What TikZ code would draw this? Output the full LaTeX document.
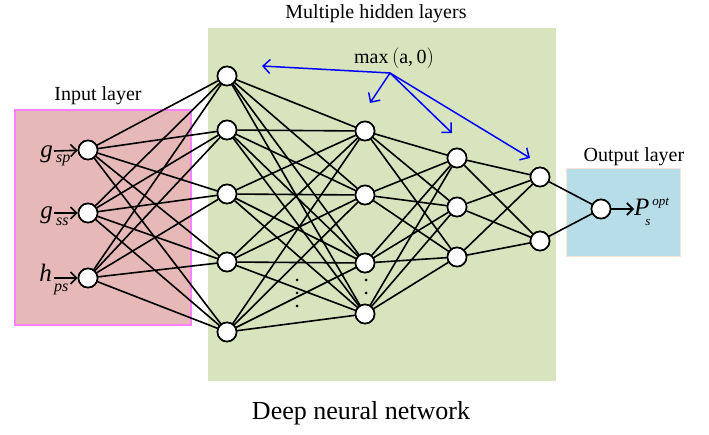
\documentclass[tikz,border=0pt]{standalone}
\usepackage{fontspec}
\setmainfont{Liberation Serif}
\usetikzlibrary{arrows.meta}
\definecolor{pinkfill}{RGB}{230,185,184}
\definecolor{pinkline}{RGB}{255,128,255}
\definecolor{greenfill}{RGB}{215,228,189}
\definecolor{bluefill}{RGB}{183,221,232}
\definecolor{peach}{RGB}{252,228,214}
\begin{document}
\begin{tikzpicture}[x=1pt,y=-1pt,
  neuron/.style={circle,draw=black,fill=white,line width=1.6pt,minimum size=19pt,inner sep=0pt},
  conn/.style={line width=1.6pt},
  relu/.style={blue,line width=1.5pt,-{Straight Barb[length=7pt,width=14pt,line width=1.5pt]}},
  inarrow/.style={line width=1.6pt,-{Straight Barb[length=6pt,width=12pt,line width=1.6pt]}},
  lbl/.style={font=\fontsize{20}{22}\selectfont,inner sep=0pt},
  big/.style={font=\fontsize{25}{27}\selectfont\itshape,inner sep=0pt},
  small/.style={font=\fontsize{16}{18}\selectfont\itshape,inner sep=0pt},
  dot/.style={circle,fill=black,inner sep=0pt,minimum size=3pt}]
\useasboundingbox (0,0) rectangle (709,435);
% boxes
\fill[pinkfill] (15,110) rectangle (191,325);
\draw[pinkline,line width=1.3pt] (15,110) rectangle (191,325);
\fill[greenfill] (208,28) rectangle (556,381);
\fill[bluefill] (566,169) rectangle (680,257);
\draw[peach,line width=1pt] (566,169) rectangle (680,257);
% titles
\node[lbl] (tin) at (98,96) {Input layer};
\node[lbl] (thid) at (376,14) {Multiple hidden layers};
\node[lbl] (tout) at (634,157) {Output layer};
\node[font=\fontsize{26}{28}\selectfont,inner sep=0pt] (tdnn) at (361,413) {Deep neural network};
\node[font=\fontsize{20}{22}\selectfont,inner sep=0pt] (tmax) at (394,58) {max$\,\bigl($a,\,0$\bigr)$};
% neurons
\foreach \i/\y in {1/150,2/213,3/278} \node[neuron] (i\i) at (88,\y) {};
\foreach \i/\y in {1/76,2/130,3/194,4/262,5/332} \node[neuron] (a\i) at (227,\y) {};
\foreach \i/\y in {1/131,2/195,3/263,4/314} \node[neuron] (b\i) at (365,\y) {};
\foreach \i/\y in {1/158,2/207,3/257} \node[neuron] (c\i) at (457,\y) {};
\foreach \i/\y in {1/177,2/241} \node[neuron] (d\i) at (540,\y) {};
\node[neuron] (o) at (601,209) {};
% connections
\foreach \s in {1,2,3} \foreach \t in {1,...,5} \draw[conn] (i\s) -- (a\t);
\foreach \s in {1,...,5} \foreach \t in {1,...,4} \draw[conn] (a\s) -- (b\t);
\foreach \s in {1,...,4} \foreach \t in {1,2,3} \draw[conn] (b\s) -- (c\t);
\foreach \s in {1,2,3} \foreach \t in {1,2} \draw[conn] (c\s) -- (d\t);
\foreach \s in {1,2} \draw[conn] (d\s) -- (o);
% redraw neurons on top
\foreach \y in {150,213,278} \node[neuron] at (88,\y) {};
\foreach \y in {76,130,194,262,332} \node[neuron] at (227,\y) {};
\foreach \y in {131,195,263,314} \node[neuron] at (365,\y) {};
\foreach \y in {158,207,257} \node[neuron] at (457,\y) {};
\foreach \y in {177,241} \node[neuron] at (540,\y) {};
\node[neuron] at (601,209) {};
% dots
\foreach \y [count=\k] in {280,293,306} \node[dot] (m\k) at (297,\y) {};
\foreach \y [count=\k] in {280,293} \node[dot] (n\k) at (366,\y) {};
% relu arrows
\coordinate (r0) at (390,73);
\coordinate (r1) at (262,66);
\coordinate (r2) at (370,103);
\coordinate (r3) at (452,133);
\coordinate (r4) at (530,158);
\foreach \k in {1,...,4} \draw[relu] (r0) -- (r\k);
% inputs
\node[big,anchor=base east] (g1) at (53,158) {g};
\node[small,anchor=base west] (s1) at (56,163) {sp};
\node[big,anchor=base east] (g2) at (53,219) {g};
\node[small,anchor=base west] (s2) at (56,226) {ss};
\node[big,anchor=base east] (g3) at (52,282) {h};
\node[small,anchor=base west] (s3) at (54,292) {ps};
\coordinate (e1) at (54,151);
\coordinate (e2) at (54,213);
\coordinate (e3) at (54,278);
\foreach \k in {1,2,3} \draw[inarrow] (e\k) -- (i\k);
% output
\coordinate (pe) at (634,209);
\draw[inarrow] (o) -- (pe);
\node[big,anchor=base west] (P) at (634,216) {P\kern-4pt\rlap{\raisebox{-10pt}{\fontsize{13}{15}\selectfont s}}\kern7pt\raisebox{10pt}{\fontsize{13}{15}\selectfont opt}};
\end{tikzpicture}
\end{document}
